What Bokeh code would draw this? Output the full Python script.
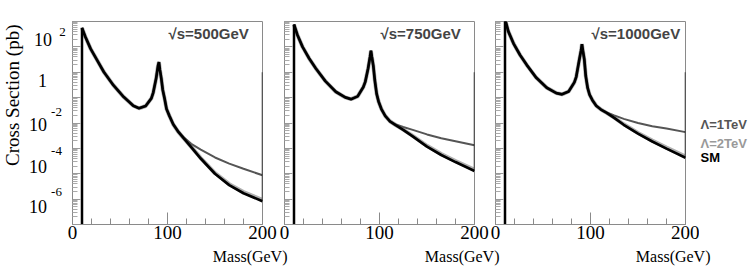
from bokeh.plotting import figure
from bokeh.layouts import row, column
from bokeh.models import FixedTicker, Label, CustomJSTickFormatter, Range1d, AllLabels
from bokeh.core.properties import value
from bokeh.embed import file_html
from bokeh.resources import INLINE
import math

# ---------------- data ----------------
mass = [10, 13.5, 19, 26, 33, 43, 54, 64, 70, 77, 83, 85, 88, 90, 91, 92, 93.5,
        95, 97, 99, 102, 106, 111, 117, 125, 135, 150, 165, 180, 200]
split = 23  # index from which the Lambda curves leave the SM curve (117 GeV)

sm_500 = [56.2, 25.1, 8.51, 2.95, 1.02, 0.309, 0.105, 0.0479, 0.0380, 0.0468,
          0.0933, 0.158, 0.562, 1.78, 2.51, 1.26, 0.562, 0.200, 0.0891, 0.0355,
          0.0191, 0.00891, 0.00468, 0.00251, 0.00112, 3.98e-4, 1.0e-4, 3.55e-5,
          1.70e-5, 8.3e-6]
lam1_500_tail = [0.00275, 0.00151, 8.9e-4, 4.37e-4, 2.51e-4, 1.58e-4, 8.7e-5]
lam2_500_tail = [0.00251, 0.00115, 4.17e-4, 1.07e-4, 3.89e-5, 1.91e-5, 9.3e-6]

sm_750 = [75.9, 30.2, 10.0, 3.47, 1.41, 0.447, 0.170, 0.102, 0.0871, 0.112,
          0.263, 0.417, 1.41, 3.98, 7.08, 3.98, 1.78, 0.501, 0.141, 0.0708,
          0.0355, 0.0191, 0.0117, 0.00832, 0.00537, 0.00295, 0.00117, 5.5e-4,
          2.88e-4, 1.29e-4]
lam1_750_tail = [0.00871, 0.00692, 0.00537, 0.00355, 0.00251, 0.00191, 0.00132]
lam2_750_tail = [0.00832, 0.0055, 0.00309, 0.00126, 6.0e-4, 3.16e-4, 1.45e-4]

sm_1000 = [126, 40.7, 13.5, 4.68, 1.91, 0.603, 0.245, 0.151, 0.135, 0.174,
           0.398, 0.661, 2.82, 7.08, 12.9, 7.08, 3.16, 0.708, 0.240, 0.132,
           0.0794, 0.0479, 0.0339, 0.0251, 0.0158, 0.00851, 0.00380, 0.00186,
           9.8e-4, 4.27e-4]
lam1_1000_tail = [0.0263, 0.0200, 0.0145, 0.0100, 0.00741, 0.00603, 0.00437]
lam2_1000_tail = [0.0251, 0.0162, 0.00891, 0.00407, 0.00204, 0.00107, 4.79e-4]

energies = ["\u221as=500GeV", "\u221as=750GeV", "\u221as=1000GeV"]
legend_labels = ["\u039b=1TeV", "\u039b=2TeV", "SM"]
legend_colors = ["#555555", "#999999", "#000000"]
legend_anchor = [1e-2, 1e-4, 1e-4]
x_ticks = [0, 100, 200]
x_minor = [20, 40, 60, 80, 120, 140, 160, 180]
y_decades = [1e-6, 1e-5, 1e-4, 1e-3, 1e-2, 1e-1, 1, 10, 100]
y_label_vals = [1e2, 1, 1e-2, 1e-4, 1e-6]
y_label_base = ["10", "1", "10", "10", "10"]
y_exp_vals = [1e2, 1e-2, 1e-4, 1e-6]
y_exp_text = ["2", "-2", "-4", "-6"]
floor_val = 1e-9   # histogram floor (zero) below the axis
edge_top = 1.0     # top of the dark segment on the right edge

SERIF = "Liberation Serif"
SANS = "Liberation Sans"
FRAME = "#8a8a8a"

# ---------------- layout geometry ----------------
FW, FH = 190, 203
TOP, BOT = 21, 24
ROW_H = TOP + FH + BOT
LEFT_W, RIGHT_W = 66, 49
BORDERS = [(6, 15), (7, 15), (6, 14)]
YMIN, YMAX = 1e-6, 1e2
DEC = FH / (math.log10(YMAX) - math.log10(YMIN))
STRIP_YR = (10 ** (math.log10(YMIN) - BOT / DEC), 10 ** (math.log10(YMAX) + TOP / DEC))


def strip(width, height, yr, ylog=True):
    kw = dict(y_axis_type="log") if ylog else {}
    s = figure(width=width, height=height, x_range=Range1d(0, width),
               y_range=Range1d(*yr), x_axis_location=None, y_axis_location=None,
               min_border=0, output_backend="svg", toolbar_location=None, **kw)
    s.outline_line_color = None
    s.border_fill_alpha = 0
    s.background_fill_alpha = 0
    s.grid.visible = False
    return s


def make_panel(sm, l1t, l2t, energy, bl, br):
    p = figure(frame_width=FW, frame_height=FH,
               x_range=Range1d(0, 200), y_range=Range1d(YMIN, YMAX),
               y_axis_type="log", output_backend="svg", toolbar_location=None,
               min_border_left=bl, min_border_right=br,
               min_border_top=TOP, min_border_bottom=BOT)
    p.grid.visible = False
    p.outline_line_color = FRAME
    p.border_fill_alpha = 0

    xa = p.xaxis[0]
    xa.ticker = FixedTicker(ticks=x_ticks, minor_ticks=x_minor)
    xa.major_label_policy = AllLabels()
    xa.major_tick_in = 12
    xa.major_tick_out = 0
    xa.minor_tick_in = 6
    xa.minor_tick_out = 0
    xa.axis_line_color = FRAME
    xa.major_tick_line_color = FRAME
    xa.minor_tick_line_color = FRAME
    xa.major_label_text_font = SERIF
    xa.major_label_text_font_size = "19px"
    xa.major_label_text_color = "black"
    xa.major_label_standoff = 1

    minors = [k * d for d in y_decades[:-1] for k in range(2, 10)]
    ya = p.yaxis[0]
    ya.ticker = FixedTicker(ticks=y_decades, minor_ticks=minors)
    ya.formatter = CustomJSTickFormatter(code="return ''")
    ya.major_label_standoff = 0
    ya.major_tick_in = 8
    ya.major_tick_out = 0
    ya.minor_tick_in = 5
    ya.minor_tick_out = 0
    ya.axis_line_color = FRAME
    ya.major_tick_line_color = "#999999"
    ya.minor_tick_line_color = "#aaaaaa"

    l1 = sm[:split] + l1t
    l2 = sm[:split] + l2t
    p.line(mass, l2, line_color="#b0b0b0", line_width=4)
    p.line(mass, l1, line_color="#555555", line_width=2)
    p.segment(x0=[mass[0]], y0=[floor_val], x1=[mass[0]], y1=[sm[0]],
              line_color="black", line_width=2.5)
    p.segment(x0=[mass[-1]], y0=[sm[-1]], x1=[mass[-1]], y1=[edge_top],
              line_color="#222222", line_width=1.5)
    p.line(mass, sm, line_color="black", line_width=2.7)

    p.add_layout(Label(x=0, y=YMAX, x_offset=96, y_offset=-12, text=energy,
                       text_font=SANS, text_font_style="bold",
                       text_font_size="15px", text_align="left",
                       text_baseline="middle"))
    return p


p1 = make_panel(sm_500, lam1_500_tail, lam2_500_tail, energies[0], *BORDERS[0])
p2 = make_panel(sm_750, lam1_750_tail, lam2_750_tail, energies[1], *BORDERS[1])
p3 = make_panel(sm_1000, lam1_1000_tail, lam2_1000_tail, energies[2], *BORDERS[2])

# ---- left strip: y tick labels and y title ----
left = strip(LEFT_W, ROW_H, STRIP_YR)
left.text(x=[42.5, 42, 37.5, 37.5, 37.5], y=y_label_vals, text=y_label_base,
          y_offset=[1, 0, 3, 3, 2], text_font=value(SERIF),
          text_font_size=value("18px"), text_align="center",
          text_baseline="middle", text_color="black")
left.text(x=[62, 56, 56, 56], y=y_exp_vals, text=y_exp_text,
          y_offset=[-7, -10, -12, -13], text_font=value(SERIF),
          text_font_size=value("13px"), text_align="center",
          text_baseline="middle", text_color="black")
left.text(x=[12], y=[1], text=["Cross Section (pb)"], y_offset=[15],
          angle=math.pi / 2, text_font=value(SERIF),
          text_font_size=value("19px"), text_align="center",
          text_baseline="middle", text_color="black")

# ---- right strip: legend texts ----
right = strip(RIGHT_W, ROW_H, STRIP_YR)
right.text(x=[1, 1, 1], y=legend_anchor, text=legend_labels,
           y_offset=[2.5, -20, -6], text_color=legend_colors,
           text_font=value(SANS), text_font_style="bold",
           text_font_size=value("13px"), text_align="left",
           text_baseline="middle")

# ---- bottom strip: x titles ----
total_w = LEFT_W + sum(bl + FW + br for bl, br in BORDERS) + RIGHT_W
frame_rights = []
acc = LEFT_W
for bl, br in BORDERS:
    frame_rights.append(acc + bl + FW)
    acc += bl + FW + br
bottom_h = 272 - ROW_H
bottom = strip(total_w, bottom_h, (bottom_h, 0), ylog=False)
bottom.text(x=[r + 25 for r in frame_rights], y=[8, 8, 8],
            text=["Mass(GeV)"] * 3, text_font=value(SERIF),
            text_font_size=value("16px"), text_align="right",
            text_baseline="middle", text_color="black")

layout = column(row(left, p1, p2, p3, right), bottom)
open("out.html", "w").write(file_html(layout, INLINE, title="Cross sections"))
